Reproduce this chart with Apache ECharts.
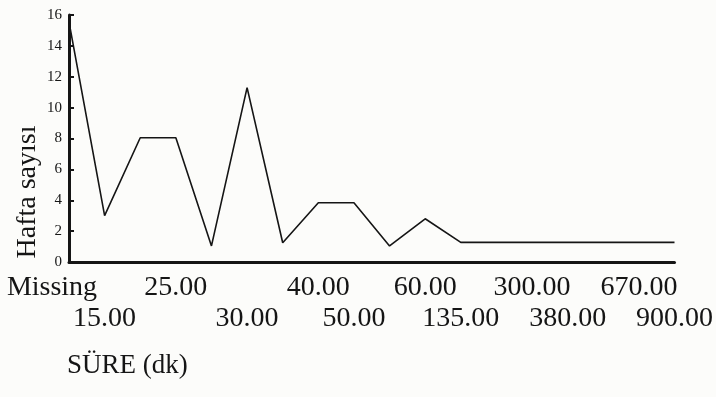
<!DOCTYPE html>
<html>
<head>
<meta charset="utf-8">
<script src="https://cdn.jsdelivr.net/npm/echarts@6/dist/echarts.min.js"></script>
<style>
html,body{margin:0;padding:0;background:#fcfcfa;}
#c{width:716px;height:397px;}
</style>
</head>
<body>
<div id="c"></div>
<script>
// Categories of SÜRE (dk); unlabeled categories are left blank as in the source
const categories = ['Missing', '15.00', '', '25.00', '', '30.00', '', '40.00', '50.00', '', '60.00', '135.00', '', '300.00', '380.00', '', '670.00', '900.00'];
// Hafta sayısı per category
const weeks = [15.55, 3.0, 8.05, 8.05, 1.04, 11.3, 1.25, 3.84, 3.84, 1.04, 2.8, 1.27, 1.27, 1.27, 1.27, 1.27, 1.27, 1.27];
const yMin = 0, yMax = 16, yInterval = 2;
const yTitle = 'Hafta sayısı';
const xTitle = 'SÜRE (dk)';

const FONT = "'Liberation Serif', 'DejaVu Serif', serif";
const INK = '#151515';

// stagger labels on two rows, alternating in label order
const labelOrder = {};
let n = 0;
categories.forEach((c, i) => { if (c) { labelOrder[i] = n++; } });

const chart = echarts.init(document.getElementById('c'));
chart.setOption({
  backgroundColor: '#fcfcfa',
  animation: false,
  grid: { left: 69, right: 41, top: 15, bottom: 135, containLabel: false },
  xAxis: {
    type: 'category',
    data: categories,
    boundaryGap: false,
    axisLine: { lineStyle: { color: INK, width: 3 } },
    axisTick: { show: false },
    axisLabel: {
      interval: 0,
      color: INK,
      fontFamily: FONT,
      fontSize: 28,
      lineHeight: 31,
      margin: 10,
      formatter: function (value, index) {
        if (!value) return '';
        const row2 = labelOrder[index] % 2 === 1;
        if (index === 0) return '{m|' + value + '}';
        return (row2 ? '\n' : '') + value;
      },
      rich: {
        m: { fontFamily: FONT, fontSize: 28, lineHeight: 31, color: INK, padding: [0, 34, 0, 0] }
      }
    },
    splitLine: { show: false }
  },
  yAxis: {
    type: 'value',
    min: yMin,
    max: yMax,
    interval: yInterval,
    axisLine: { show: true, lineStyle: { color: INK, width: 3 } },
    axisTick: { show: true, inside: true, length: 5, lineStyle: { color: INK, width: 2 } },
    axisLabel: { color: INK, fontFamily: FONT, fontSize: 15, margin: 7 },
    splitLine: { show: false }
  },
  graphic: [
    {
      type: 'text',
      x: 28, y: 192,
      rotation: Math.PI / 2,
      style: { text: yTitle, fill: INK, font: '28px ' + FONT, textAlign: 'center', textVerticalAlign: 'middle' }
    },
    {
      type: 'text',
      x: 67, y: 366,
      style: { text: xTitle, fill: INK, font: '27px ' + FONT, textAlign: 'left', textVerticalAlign: 'middle' }
    }
  ],
  series: [{
    type: 'line',
    data: weeks,
    symbol: 'none',
    lineStyle: { color: INK, width: 1.6 }
  }]
});
</script>
</body>
</html>
